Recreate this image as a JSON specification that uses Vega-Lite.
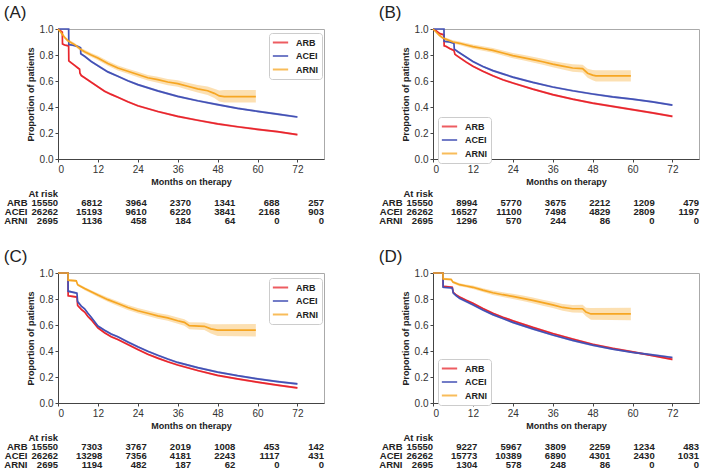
{
  "$schema": "https://vega.github.io/schema/vega-lite/v6.json",
  "background": "white",
  "padding": {"left": 3, "top": 3, "right": 2, "bottom": 2},
  "config": {
    "font": "Liberation Sans",
    "view": {"stroke": "#aaaaaa", "strokeWidth": 1},
    "axis": {"grid": false, "labelOverlap": false, "labelFont": "Liberation Sans", "labelFontSize": 10, "labelColor": "#333333", "titleFont": "Liberation Sans", "titleFontSize": 9, "titleFontWeight": "bold", "titleColor": "#222222", "domainColor": "#444444", "tickColor": "#444444", "tickSize": 3, "labelPadding": 2},
    "title": {"font": "Liberation Sans", "fontSize": 17, "fontWeight": "normal", "color": "#222222", "anchor": "start", "offset": 2},
    "legend": {"title": null, "strokeColor": "#cccccc", "fillColor": "white", "padding": 4, "cornerRadius": 3, "symbolType": "M-1.7,0H1.7", "symbolSize": 81, "symbolStrokeWidth": 2, "symbolOpacity": 0.75, "labelFont": "Liberation Sans", "labelFontSize": 9, "labelFontWeight": "bold", "labelColor": "#222222", "rowPadding": 2.5, "labelOffset": 10, "symbolOffset": 2}
  },
  "datasets": {
    "km": [
      {"p":"A","g":"ARB","i":0,"t":0,"s":1,"lo":1,"hi":1},
      {"p":"A","g":"ARB","i":1,"t":0.5,"s":0.99,"lo":0.982,"hi":0.998},
      {"p":"A","g":"ARB","i":2,"t":1.3,"s":0.975,"lo":0.967,"hi":0.983},
      {"p":"A","g":"ARB","i":3,"t":1.35,"s":0.885,"lo":0.877,"hi":0.893},
      {"p":"A","g":"ARB","i":4,"t":2,"s":0.877,"lo":0.869,"hi":0.885},
      {"p":"A","g":"ARB","i":5,"t":3.2,"s":0.87,"lo":0.862,"hi":0.878},
      {"p":"A","g":"ARB","i":6,"t":3.25,"s":0.755,"lo":0.747,"hi":0.763},
      {"p":"A","g":"ARB","i":7,"t":4,"s":0.74,"lo":0.732,"hi":0.748},
      {"p":"A","g":"ARB","i":8,"t":5,"s":0.72,"lo":0.712,"hi":0.728},
      {"p":"A","g":"ARB","i":9,"t":6,"s":0.7,"lo":0.692,"hi":0.708},
      {"p":"A","g":"ARB","i":10,"t":6.5,"s":0.69,"lo":0.682,"hi":0.698},
      {"p":"A","g":"ARB","i":11,"t":6.6,"s":0.66,"lo":0.652,"hi":0.668},
      {"p":"A","g":"ARB","i":12,"t":7,"s":0.642,"lo":0.634,"hi":0.65},
      {"p":"A","g":"ARB","i":13,"t":8,"s":0.625,"lo":0.617,"hi":0.633},
      {"p":"A","g":"ARB","i":14,"t":9,"s":0.608,"lo":0.6,"hi":0.616},
      {"p":"A","g":"ARB","i":15,"t":10,"s":0.59,"lo":0.582,"hi":0.598},
      {"p":"A","g":"ARB","i":16,"t":12,"s":0.556,"lo":0.548,"hi":0.564},
      {"p":"A","g":"ARB","i":17,"t":14,"s":0.522,"lo":0.514,"hi":0.53},
      {"p":"A","g":"ARB","i":18,"t":16,"s":0.497,"lo":0.489,"hi":0.505},
      {"p":"A","g":"ARB","i":19,"t":18,"s":0.475,"lo":0.467,"hi":0.483},
      {"p":"A","g":"ARB","i":20,"t":21,"s":0.44,"lo":0.432,"hi":0.448},
      {"p":"A","g":"ARB","i":21,"t":24,"s":0.41,"lo":0.402,"hi":0.418},
      {"p":"A","g":"ARB","i":22,"t":30,"s":0.365,"lo":0.357,"hi":0.373},
      {"p":"A","g":"ARB","i":23,"t":36,"s":0.328,"lo":0.32,"hi":0.336},
      {"p":"A","g":"ARB","i":24,"t":42,"s":0.298,"lo":0.29,"hi":0.306},
      {"p":"A","g":"ARB","i":25,"t":48,"s":0.27,"lo":0.262,"hi":0.278},
      {"p":"A","g":"ARB","i":26,"t":54,"s":0.248,"lo":0.24,"hi":0.256},
      {"p":"A","g":"ARB","i":27,"t":60,"s":0.228,"lo":0.22,"hi":0.236},
      {"p":"A","g":"ARB","i":28,"t":66,"s":0.21,"lo":0.202,"hi":0.218},
      {"p":"A","g":"ARB","i":29,"t":72,"s":0.187,"lo":0.179,"hi":0.195},
      {"p":"A","g":"ACEI","i":0,"t":0,"s":1,"lo":1,"hi":1},
      {"p":"A","g":"ACEI","i":1,"t":3.2,"s":1,"lo":1,"hi":1},
      {"p":"A","g":"ACEI","i":2,"t":3.25,"s":0.88,"lo":0.872,"hi":0.888},
      {"p":"A","g":"ACEI","i":3,"t":4.5,"s":0.875,"lo":0.867,"hi":0.883},
      {"p":"A","g":"ACEI","i":4,"t":6,"s":0.865,"lo":0.857,"hi":0.873},
      {"p":"A","g":"ACEI","i":5,"t":6.8,"s":0.855,"lo":0.847,"hi":0.863},
      {"p":"A","g":"ACEI","i":6,"t":6.85,"s":0.81,"lo":0.802,"hi":0.818},
      {"p":"A","g":"ACEI","i":7,"t":8,"s":0.79,"lo":0.782,"hi":0.798},
      {"p":"A","g":"ACEI","i":8,"t":10,"s":0.75,"lo":0.742,"hi":0.758},
      {"p":"A","g":"ACEI","i":9,"t":12,"s":0.718,"lo":0.71,"hi":0.726},
      {"p":"A","g":"ACEI","i":10,"t":15,"s":0.67,"lo":0.662,"hi":0.678},
      {"p":"A","g":"ACEI","i":11,"t":18,"s":0.636,"lo":0.628,"hi":0.644},
      {"p":"A","g":"ACEI","i":12,"t":21,"s":0.602,"lo":0.594,"hi":0.61},
      {"p":"A","g":"ACEI","i":13,"t":24,"s":0.572,"lo":0.564,"hi":0.58},
      {"p":"A","g":"ACEI","i":14,"t":30,"s":0.524,"lo":0.516,"hi":0.532},
      {"p":"A","g":"ACEI","i":15,"t":36,"s":0.482,"lo":0.474,"hi":0.49},
      {"p":"A","g":"ACEI","i":16,"t":42,"s":0.448,"lo":0.44,"hi":0.456},
      {"p":"A","g":"ACEI","i":17,"t":48,"s":0.418,"lo":0.41,"hi":0.426},
      {"p":"A","g":"ACEI","i":18,"t":54,"s":0.39,"lo":0.382,"hi":0.398},
      {"p":"A","g":"ACEI","i":19,"t":60,"s":0.367,"lo":0.359,"hi":0.375},
      {"p":"A","g":"ACEI","i":20,"t":66,"s":0.345,"lo":0.337,"hi":0.353},
      {"p":"A","g":"ACEI","i":21,"t":72,"s":0.323,"lo":0.315,"hi":0.331},
      {"p":"A","g":"ARNI","i":0,"t":0,"s":1,"lo":1,"hi":1},
      {"p":"A","g":"ARNI","i":1,"t":1,"s":0.97,"lo":0.962,"hi":0.978},
      {"p":"A","g":"ARNI","i":2,"t":2,"s":0.935,"lo":0.925,"hi":0.945},
      {"p":"A","g":"ARNI","i":3,"t":3,"s":0.91,"lo":0.899,"hi":0.921},
      {"p":"A","g":"ARNI","i":4,"t":4,"s":0.895,"lo":0.883,"hi":0.907},
      {"p":"A","g":"ARNI","i":5,"t":5,"s":0.88,"lo":0.867,"hi":0.893},
      {"p":"A","g":"ARNI","i":6,"t":6,"s":0.86,"lo":0.846,"hi":0.874},
      {"p":"A","g":"ARNI","i":7,"t":7,"s":0.84,"lo":0.826,"hi":0.854},
      {"p":"A","g":"ARNI","i":8,"t":8,"s":0.825,"lo":0.81,"hi":0.84},
      {"p":"A","g":"ARNI","i":9,"t":10,"s":0.8,"lo":0.784,"hi":0.816},
      {"p":"A","g":"ARNI","i":10,"t":12,"s":0.777,"lo":0.76,"hi":0.794},
      {"p":"A","g":"ARNI","i":11,"t":15,"s":0.735,"lo":0.717,"hi":0.753},
      {"p":"A","g":"ARNI","i":12,"t":18,"s":0.7,"lo":0.681,"hi":0.719},
      {"p":"A","g":"ARNI","i":13,"t":21,"s":0.675,"lo":0.655,"hi":0.695},
      {"p":"A","g":"ARNI","i":14,"t":24,"s":0.65,"lo":0.629,"hi":0.671},
      {"p":"A","g":"ARNI","i":15,"t":27,"s":0.625,"lo":0.603,"hi":0.647},
      {"p":"A","g":"ARNI","i":16,"t":30,"s":0.61,"lo":0.587,"hi":0.633},
      {"p":"A","g":"ARNI","i":17,"t":33,"s":0.592,"lo":0.568,"hi":0.616},
      {"p":"A","g":"ARNI","i":18,"t":36,"s":0.58,"lo":0.555,"hi":0.605},
      {"p":"A","g":"ARNI","i":19,"t":39,"s":0.56,"lo":0.533,"hi":0.587},
      {"p":"A","g":"ARNI","i":20,"t":42,"s":0.54,"lo":0.511,"hi":0.569},
      {"p":"A","g":"ARNI","i":21,"t":45,"s":0.525,"lo":0.493,"hi":0.557},
      {"p":"A","g":"ARNI","i":22,"t":47,"s":0.505,"lo":0.47,"hi":0.54},
      {"p":"A","g":"ARNI","i":23,"t":48.5,"s":0.485,"lo":0.443,"hi":0.527},
      {"p":"A","g":"ARNI","i":24,"t":50,"s":0.48,"lo":0.435,"hi":0.53},
      {"p":"A","g":"ARNI","i":25,"t":59.5,"s":0.48,"lo":0.435,"hi":0.53},

      {"p":"B","g":"ARB","i":0,"t":0,"s":1,"lo":1,"hi":1},
      {"p":"B","g":"ARB","i":1,"t":1,"s":0.985,"lo":0.977,"hi":0.993},
      {"p":"B","g":"ARB","i":2,"t":2,"s":0.965,"lo":0.957,"hi":0.973},
      {"p":"B","g":"ARB","i":3,"t":3.3,"s":0.955,"lo":0.947,"hi":0.963},
      {"p":"B","g":"ARB","i":4,"t":3.35,"s":0.87,"lo":0.862,"hi":0.878},
      {"p":"B","g":"ARB","i":5,"t":4,"s":0.865,"lo":0.857,"hi":0.873},
      {"p":"B","g":"ARB","i":6,"t":5,"s":0.85,"lo":0.842,"hi":0.858},
      {"p":"B","g":"ARB","i":7,"t":6.3,"s":0.835,"lo":0.827,"hi":0.843},
      {"p":"B","g":"ARB","i":8,"t":6.6,"s":0.805,"lo":0.797,"hi":0.813},
      {"p":"B","g":"ARB","i":9,"t":8,"s":0.78,"lo":0.772,"hi":0.788},
      {"p":"B","g":"ARB","i":10,"t":10,"s":0.745,"lo":0.737,"hi":0.753},
      {"p":"B","g":"ARB","i":11,"t":12,"s":0.713,"lo":0.705,"hi":0.721},
      {"p":"B","g":"ARB","i":12,"t":15,"s":0.675,"lo":0.667,"hi":0.683},
      {"p":"B","g":"ARB","i":13,"t":18,"s":0.64,"lo":0.632,"hi":0.648},
      {"p":"B","g":"ARB","i":14,"t":21,"s":0.61,"lo":0.602,"hi":0.618},
      {"p":"B","g":"ARB","i":15,"t":24,"s":0.585,"lo":0.577,"hi":0.593},
      {"p":"B","g":"ARB","i":16,"t":30,"s":0.538,"lo":0.53,"hi":0.546},
      {"p":"B","g":"ARB","i":17,"t":36,"s":0.495,"lo":0.487,"hi":0.503},
      {"p":"B","g":"ARB","i":18,"t":42,"s":0.46,"lo":0.452,"hi":0.468},
      {"p":"B","g":"ARB","i":19,"t":48,"s":0.43,"lo":0.422,"hi":0.438},
      {"p":"B","g":"ARB","i":20,"t":54,"s":0.405,"lo":0.397,"hi":0.413},
      {"p":"B","g":"ARB","i":21,"t":60,"s":0.38,"lo":0.372,"hi":0.388},
      {"p":"B","g":"ARB","i":22,"t":66,"s":0.355,"lo":0.347,"hi":0.363},
      {"p":"B","g":"ARB","i":23,"t":72,"s":0.328,"lo":0.32,"hi":0.336},
      {"p":"B","g":"ACEI","i":0,"t":0,"s":1,"lo":1,"hi":1},
      {"p":"B","g":"ACEI","i":1,"t":3.3,"s":1,"lo":1,"hi":1},
      {"p":"B","g":"ACEI","i":2,"t":3.35,"s":0.905,"lo":0.897,"hi":0.913},
      {"p":"B","g":"ACEI","i":3,"t":5,"s":0.9,"lo":0.892,"hi":0.908},
      {"p":"B","g":"ACEI","i":4,"t":6.3,"s":0.89,"lo":0.882,"hi":0.898},
      {"p":"B","g":"ACEI","i":5,"t":6.4,"s":0.845,"lo":0.837,"hi":0.853},
      {"p":"B","g":"ACEI","i":6,"t":7.5,"s":0.825,"lo":0.817,"hi":0.833},
      {"p":"B","g":"ACEI","i":7,"t":9,"s":0.8,"lo":0.792,"hi":0.808},
      {"p":"B","g":"ACEI","i":8,"t":12,"s":0.75,"lo":0.742,"hi":0.758},
      {"p":"B","g":"ACEI","i":9,"t":15,"s":0.712,"lo":0.704,"hi":0.72},
      {"p":"B","g":"ACEI","i":10,"t":18,"s":0.68,"lo":0.672,"hi":0.688},
      {"p":"B","g":"ACEI","i":11,"t":21,"s":0.655,"lo":0.647,"hi":0.663},
      {"p":"B","g":"ACEI","i":12,"t":24,"s":0.63,"lo":0.622,"hi":0.638},
      {"p":"B","g":"ACEI","i":13,"t":30,"s":0.59,"lo":0.582,"hi":0.598},
      {"p":"B","g":"ACEI","i":14,"t":36,"s":0.554,"lo":0.546,"hi":0.562},
      {"p":"B","g":"ACEI","i":15,"t":42,"s":0.525,"lo":0.517,"hi":0.533},
      {"p":"B","g":"ACEI","i":16,"t":48,"s":0.5,"lo":0.492,"hi":0.508},
      {"p":"B","g":"ACEI","i":17,"t":54,"s":0.478,"lo":0.47,"hi":0.486},
      {"p":"B","g":"ACEI","i":18,"t":60,"s":0.46,"lo":0.452,"hi":0.468},
      {"p":"B","g":"ACEI","i":19,"t":66,"s":0.44,"lo":0.432,"hi":0.448},
      {"p":"B","g":"ACEI","i":20,"t":72,"s":0.415,"lo":0.407,"hi":0.423},
      {"p":"B","g":"ARNI","i":0,"t":0,"s":1,"lo":1,"hi":1},
      {"p":"B","g":"ARNI","i":1,"t":1,"s":0.975,"lo":0.967,"hi":0.983},
      {"p":"B","g":"ARNI","i":2,"t":2,"s":0.95,"lo":0.94,"hi":0.96},
      {"p":"B","g":"ARNI","i":3,"t":3,"s":0.93,"lo":0.919,"hi":0.941},
      {"p":"B","g":"ARNI","i":4,"t":4,"s":0.92,"lo":0.908,"hi":0.932},
      {"p":"B","g":"ARNI","i":5,"t":6,"s":0.9,"lo":0.887,"hi":0.913},
      {"p":"B","g":"ARNI","i":6,"t":8,"s":0.89,"lo":0.876,"hi":0.904},
      {"p":"B","g":"ARNI","i":7,"t":10,"s":0.877,"lo":0.862,"hi":0.892},
      {"p":"B","g":"ARNI","i":8,"t":12,"s":0.865,"lo":0.849,"hi":0.881},
      {"p":"B","g":"ARNI","i":9,"t":15,"s":0.85,"lo":0.833,"hi":0.867},
      {"p":"B","g":"ARNI","i":10,"t":18,"s":0.835,"lo":0.817,"hi":0.853},
      {"p":"B","g":"ARNI","i":11,"t":21,"s":0.815,"lo":0.796,"hi":0.834},
      {"p":"B","g":"ARNI","i":12,"t":24,"s":0.795,"lo":0.775,"hi":0.815},
      {"p":"B","g":"ARNI","i":13,"t":27,"s":0.78,"lo":0.759,"hi":0.801},
      {"p":"B","g":"ARNI","i":14,"t":30,"s":0.765,"lo":0.743,"hi":0.787},
      {"p":"B","g":"ARNI","i":15,"t":33,"s":0.748,"lo":0.725,"hi":0.771},
      {"p":"B","g":"ARNI","i":16,"t":36,"s":0.73,"lo":0.706,"hi":0.754},
      {"p":"B","g":"ARNI","i":17,"t":39,"s":0.715,"lo":0.689,"hi":0.741},
      {"p":"B","g":"ARNI","i":18,"t":42,"s":0.7,"lo":0.672,"hi":0.728},
      {"p":"B","g":"ARNI","i":19,"t":45,"s":0.695,"lo":0.665,"hi":0.725},
      {"p":"B","g":"ARNI","i":20,"t":46.5,"s":0.66,"lo":0.625,"hi":0.695},
      {"p":"B","g":"ARNI","i":21,"t":48,"s":0.645,"lo":0.605,"hi":0.685},
      {"p":"B","g":"ARNI","i":22,"t":49,"s":0.64,"lo":0.597,"hi":0.683},
      {"p":"B","g":"ARNI","i":23,"t":59.5,"s":0.64,"lo":0.597,"hi":0.683},

      {"p":"C","g":"ARB","i":0,"t":0,"s":1,"lo":1,"hi":1},
      {"p":"C","g":"ARB","i":1,"t":3,"s":1,"lo":1,"hi":1},
      {"p":"C","g":"ARB","i":2,"t":3.05,"s":0.825,"lo":0.817,"hi":0.833},
      {"p":"C","g":"ARB","i":3,"t":5.7,"s":0.815,"lo":0.807,"hi":0.823},
      {"p":"C","g":"ARB","i":4,"t":5.9,"s":0.75,"lo":0.742,"hi":0.758},
      {"p":"C","g":"ARB","i":5,"t":7,"s":0.72,"lo":0.712,"hi":0.728},
      {"p":"C","g":"ARB","i":6,"t":8,"s":0.7,"lo":0.692,"hi":0.708},
      {"p":"C","g":"ARB","i":7,"t":9,"s":0.665,"lo":0.657,"hi":0.673},
      {"p":"C","g":"ARB","i":8,"t":10,"s":0.64,"lo":0.632,"hi":0.648},
      {"p":"C","g":"ARB","i":9,"t":12,"s":0.578,"lo":0.57,"hi":0.586},
      {"p":"C","g":"ARB","i":10,"t":14,"s":0.54,"lo":0.532,"hi":0.548},
      {"p":"C","g":"ARB","i":11,"t":16,"s":0.51,"lo":0.502,"hi":0.518},
      {"p":"C","g":"ARB","i":12,"t":18,"s":0.488,"lo":0.48,"hi":0.496},
      {"p":"C","g":"ARB","i":13,"t":21,"s":0.45,"lo":0.442,"hi":0.458},
      {"p":"C","g":"ARB","i":14,"t":24,"s":0.412,"lo":0.404,"hi":0.42},
      {"p":"C","g":"ARB","i":15,"t":27,"s":0.375,"lo":0.367,"hi":0.383},
      {"p":"C","g":"ARB","i":16,"t":30,"s":0.345,"lo":0.337,"hi":0.353},
      {"p":"C","g":"ARB","i":17,"t":33,"s":0.317,"lo":0.309,"hi":0.325},
      {"p":"C","g":"ARB","i":18,"t":36,"s":0.292,"lo":0.284,"hi":0.3},
      {"p":"C","g":"ARB","i":19,"t":42,"s":0.25,"lo":0.242,"hi":0.258},
      {"p":"C","g":"ARB","i":20,"t":48,"s":0.212,"lo":0.204,"hi":0.22},
      {"p":"C","g":"ARB","i":21,"t":54,"s":0.185,"lo":0.177,"hi":0.193},
      {"p":"C","g":"ARB","i":22,"t":60,"s":0.16,"lo":0.152,"hi":0.168},
      {"p":"C","g":"ARB","i":23,"t":66,"s":0.137,"lo":0.129,"hi":0.145},
      {"p":"C","g":"ARB","i":24,"t":72,"s":0.116,"lo":0.108,"hi":0.124},
      {"p":"C","g":"ACEI","i":0,"t":0,"s":1,"lo":1,"hi":1},
      {"p":"C","g":"ACEI","i":1,"t":3,"s":1,"lo":1,"hi":1},
      {"p":"C","g":"ACEI","i":2,"t":3.05,"s":0.86,"lo":0.852,"hi":0.868},
      {"p":"C","g":"ACEI","i":3,"t":5.7,"s":0.845,"lo":0.837,"hi":0.853},
      {"p":"C","g":"ACEI","i":4,"t":5.9,"s":0.78,"lo":0.772,"hi":0.788},
      {"p":"C","g":"ACEI","i":5,"t":7,"s":0.745,"lo":0.737,"hi":0.753},
      {"p":"C","g":"ACEI","i":6,"t":8,"s":0.725,"lo":0.717,"hi":0.733},
      {"p":"C","g":"ACEI","i":7,"t":9,"s":0.69,"lo":0.682,"hi":0.698},
      {"p":"C","g":"ACEI","i":8,"t":10,"s":0.66,"lo":0.652,"hi":0.668},
      {"p":"C","g":"ACEI","i":9,"t":12,"s":0.592,"lo":0.584,"hi":0.6},
      {"p":"C","g":"ACEI","i":10,"t":14,"s":0.56,"lo":0.552,"hi":0.568},
      {"p":"C","g":"ACEI","i":11,"t":16,"s":0.53,"lo":0.522,"hi":0.538},
      {"p":"C","g":"ACEI","i":12,"t":18,"s":0.509,"lo":0.501,"hi":0.517},
      {"p":"C","g":"ACEI","i":13,"t":21,"s":0.47,"lo":0.462,"hi":0.478},
      {"p":"C","g":"ACEI","i":14,"t":24,"s":0.432,"lo":0.424,"hi":0.44},
      {"p":"C","g":"ACEI","i":15,"t":27,"s":0.398,"lo":0.39,"hi":0.406},
      {"p":"C","g":"ACEI","i":16,"t":30,"s":0.367,"lo":0.359,"hi":0.375},
      {"p":"C","g":"ACEI","i":17,"t":33,"s":0.338,"lo":0.33,"hi":0.346},
      {"p":"C","g":"ACEI","i":18,"t":36,"s":0.312,"lo":0.304,"hi":0.32},
      {"p":"C","g":"ACEI","i":19,"t":42,"s":0.272,"lo":0.264,"hi":0.28},
      {"p":"C","g":"ACEI","i":20,"t":48,"s":0.238,"lo":0.23,"hi":0.246},
      {"p":"C","g":"ACEI","i":21,"t":54,"s":0.21,"lo":0.202,"hi":0.218},
      {"p":"C","g":"ACEI","i":22,"t":60,"s":0.186,"lo":0.178,"hi":0.194},
      {"p":"C","g":"ACEI","i":23,"t":66,"s":0.165,"lo":0.157,"hi":0.173},
      {"p":"C","g":"ACEI","i":24,"t":72,"s":0.147,"lo":0.139,"hi":0.155},
      {"p":"C","g":"ARNI","i":0,"t":0,"s":1,"lo":1,"hi":1},
      {"p":"C","g":"ARNI","i":1,"t":3,"s":1,"lo":1,"hi":1},
      {"p":"C","g":"ARNI","i":2,"t":3.05,"s":0.945,"lo":0.937,"hi":0.953},
      {"p":"C","g":"ARNI","i":3,"t":5.5,"s":0.94,"lo":0.931,"hi":0.949},
      {"p":"C","g":"ARNI","i":4,"t":5.9,"s":0.91,"lo":0.9,"hi":0.92},
      {"p":"C","g":"ARNI","i":5,"t":7,"s":0.895,"lo":0.884,"hi":0.906},
      {"p":"C","g":"ARNI","i":6,"t":8,"s":0.88,"lo":0.868,"hi":0.892},
      {"p":"C","g":"ARNI","i":7,"t":10,"s":0.855,"lo":0.842,"hi":0.868},
      {"p":"C","g":"ARNI","i":8,"t":12,"s":0.83,"lo":0.815,"hi":0.845},
      {"p":"C","g":"ARNI","i":9,"t":15,"s":0.795,"lo":0.778,"hi":0.812},
      {"p":"C","g":"ARNI","i":10,"t":18,"s":0.765,"lo":0.747,"hi":0.783},
      {"p":"C","g":"ARNI","i":11,"t":21,"s":0.735,"lo":0.716,"hi":0.754},
      {"p":"C","g":"ARNI","i":12,"t":24,"s":0.71,"lo":0.69,"hi":0.73},
      {"p":"C","g":"ARNI","i":13,"t":27,"s":0.69,"lo":0.669,"hi":0.711},
      {"p":"C","g":"ARNI","i":14,"t":30,"s":0.67,"lo":0.648,"hi":0.692},
      {"p":"C","g":"ARNI","i":15,"t":33,"s":0.655,"lo":0.632,"hi":0.678},
      {"p":"C","g":"ARNI","i":16,"t":36,"s":0.633,"lo":0.609,"hi":0.657},
      {"p":"C","g":"ARNI","i":17,"t":38,"s":0.62,"lo":0.595,"hi":0.645},
      {"p":"C","g":"ARNI","i":18,"t":39.5,"s":0.595,"lo":0.568,"hi":0.622},
      {"p":"C","g":"ARNI","i":19,"t":44,"s":0.59,"lo":0.561,"hi":0.619},
      {"p":"C","g":"ARNI","i":20,"t":46,"s":0.57,"lo":0.535,"hi":0.605},
      {"p":"C","g":"ARNI","i":21,"t":48,"s":0.56,"lo":0.515,"hi":0.605},
      {"p":"C","g":"ARNI","i":22,"t":59.5,"s":0.56,"lo":0.512,"hi":0.607},

      {"p":"D","g":"ARB","i":0,"t":0,"s":1,"lo":1,"hi":1},
      {"p":"D","g":"ARB","i":1,"t":3,"s":1,"lo":1,"hi":1},
      {"p":"D","g":"ARB","i":2,"t":3.05,"s":0.897,"lo":0.889,"hi":0.905},
      {"p":"D","g":"ARB","i":3,"t":5.8,"s":0.89,"lo":0.882,"hi":0.898},
      {"p":"D","g":"ARB","i":4,"t":6.1,"s":0.85,"lo":0.842,"hi":0.858},
      {"p":"D","g":"ARB","i":5,"t":7,"s":0.83,"lo":0.822,"hi":0.838},
      {"p":"D","g":"ARB","i":6,"t":8,"s":0.815,"lo":0.807,"hi":0.823},
      {"p":"D","g":"ARB","i":7,"t":10,"s":0.79,"lo":0.782,"hi":0.798},
      {"p":"D","g":"ARB","i":8,"t":12,"s":0.767,"lo":0.759,"hi":0.775},
      {"p":"D","g":"ARB","i":9,"t":15,"s":0.727,"lo":0.719,"hi":0.735},
      {"p":"D","g":"ARB","i":10,"t":18,"s":0.69,"lo":0.682,"hi":0.698},
      {"p":"D","g":"ARB","i":11,"t":21,"s":0.66,"lo":0.652,"hi":0.668},
      {"p":"D","g":"ARB","i":12,"t":24,"s":0.633,"lo":0.625,"hi":0.641},
      {"p":"D","g":"ARB","i":13,"t":30,"s":0.582,"lo":0.574,"hi":0.59},
      {"p":"D","g":"ARB","i":14,"t":36,"s":0.535,"lo":0.527,"hi":0.543},
      {"p":"D","g":"ARB","i":15,"t":42,"s":0.492,"lo":0.484,"hi":0.5},
      {"p":"D","g":"ARB","i":16,"t":48,"s":0.452,"lo":0.444,"hi":0.46},
      {"p":"D","g":"ARB","i":17,"t":54,"s":0.42,"lo":0.412,"hi":0.428},
      {"p":"D","g":"ARB","i":18,"t":60,"s":0.393,"lo":0.385,"hi":0.401},
      {"p":"D","g":"ARB","i":19,"t":66,"s":0.365,"lo":0.357,"hi":0.373},
      {"p":"D","g":"ARB","i":20,"t":72,"s":0.335,"lo":0.327,"hi":0.343},
      {"p":"D","g":"ACEI","i":0,"t":0,"s":1,"lo":1,"hi":1},
      {"p":"D","g":"ACEI","i":1,"t":3,"s":1,"lo":1,"hi":1},
      {"p":"D","g":"ACEI","i":2,"t":3.05,"s":0.89,"lo":0.882,"hi":0.898},
      {"p":"D","g":"ACEI","i":3,"t":5.8,"s":0.885,"lo":0.877,"hi":0.893},
      {"p":"D","g":"ACEI","i":4,"t":6.1,"s":0.845,"lo":0.837,"hi":0.853},
      {"p":"D","g":"ACEI","i":5,"t":7,"s":0.825,"lo":0.817,"hi":0.833},
      {"p":"D","g":"ACEI","i":6,"t":8,"s":0.805,"lo":0.797,"hi":0.813},
      {"p":"D","g":"ACEI","i":7,"t":10,"s":0.78,"lo":0.772,"hi":0.788},
      {"p":"D","g":"ACEI","i":8,"t":12,"s":0.755,"lo":0.747,"hi":0.763},
      {"p":"D","g":"ACEI","i":9,"t":15,"s":0.715,"lo":0.707,"hi":0.723},
      {"p":"D","g":"ACEI","i":10,"t":18,"s":0.68,"lo":0.672,"hi":0.688},
      {"p":"D","g":"ACEI","i":11,"t":21,"s":0.65,"lo":0.642,"hi":0.658},
      {"p":"D","g":"ACEI","i":12,"t":24,"s":0.62,"lo":0.612,"hi":0.628},
      {"p":"D","g":"ACEI","i":13,"t":30,"s":0.57,"lo":0.562,"hi":0.578},
      {"p":"D","g":"ACEI","i":14,"t":36,"s":0.523,"lo":0.515,"hi":0.531},
      {"p":"D","g":"ACEI","i":15,"t":42,"s":0.482,"lo":0.474,"hi":0.49},
      {"p":"D","g":"ACEI","i":16,"t":48,"s":0.445,"lo":0.437,"hi":0.453},
      {"p":"D","g":"ACEI","i":17,"t":54,"s":0.415,"lo":0.407,"hi":0.423},
      {"p":"D","g":"ACEI","i":18,"t":60,"s":0.39,"lo":0.382,"hi":0.398},
      {"p":"D","g":"ACEI","i":19,"t":66,"s":0.37,"lo":0.362,"hi":0.378},
      {"p":"D","g":"ACEI","i":20,"t":72,"s":0.35,"lo":0.342,"hi":0.358},
      {"p":"D","g":"ARNI","i":0,"t":0,"s":1,"lo":1,"hi":1},
      {"p":"D","g":"ARNI","i":1,"t":3,"s":1,"lo":1,"hi":1},
      {"p":"D","g":"ARNI","i":2,"t":3.05,"s":0.955,"lo":0.947,"hi":0.963},
      {"p":"D","g":"ARNI","i":3,"t":5.5,"s":0.95,"lo":0.941,"hi":0.959},
      {"p":"D","g":"ARNI","i":4,"t":6,"s":0.93,"lo":0.92,"hi":0.94},
      {"p":"D","g":"ARNI","i":5,"t":8,"s":0.91,"lo":0.899,"hi":0.921},
      {"p":"D","g":"ARNI","i":6,"t":10,"s":0.9,"lo":0.888,"hi":0.912},
      {"p":"D","g":"ARNI","i":7,"t":12,"s":0.89,"lo":0.876,"hi":0.904},
      {"p":"D","g":"ARNI","i":8,"t":15,"s":0.868,"lo":0.853,"hi":0.883},
      {"p":"D","g":"ARNI","i":9,"t":18,"s":0.848,"lo":0.831,"hi":0.865},
      {"p":"D","g":"ARNI","i":10,"t":21,"s":0.833,"lo":0.815,"hi":0.851},
      {"p":"D","g":"ARNI","i":11,"t":24,"s":0.82,"lo":0.8,"hi":0.84},
      {"p":"D","g":"ARNI","i":12,"t":27,"s":0.805,"lo":0.784,"hi":0.826},
      {"p":"D","g":"ARNI","i":13,"t":30,"s":0.79,"lo":0.768,"hi":0.812},
      {"p":"D","g":"ARNI","i":14,"t":33,"s":0.772,"lo":0.749,"hi":0.795},
      {"p":"D","g":"ARNI","i":15,"t":36,"s":0.755,"lo":0.731,"hi":0.779},
      {"p":"D","g":"ARNI","i":16,"t":39,"s":0.735,"lo":0.709,"hi":0.761},
      {"p":"D","g":"ARNI","i":17,"t":42,"s":0.725,"lo":0.697,"hi":0.753},
      {"p":"D","g":"ARNI","i":18,"t":45,"s":0.725,"lo":0.695,"hi":0.755},
      {"p":"D","g":"ARNI","i":19,"t":46,"s":0.7,"lo":0.668,"hi":0.732},
      {"p":"D","g":"ARNI","i":20,"t":47.5,"s":0.685,"lo":0.64,"hi":0.73},
      {"p":"D","g":"ARNI","i":21,"t":59.5,"s":0.685,"lo":0.637,"hi":0.733}
    ],
    "risk": [
      {"p":"A","r":"hdr","t":0,"n":"At risk"},
      {"p":"A","r":"ARB","t":0,"n":"15550"},{"p":"A","r":"ARB","t":12,"n":"6812"},{"p":"A","r":"ARB","t":24,"n":"3964"},{"p":"A","r":"ARB","t":36,"n":"2370"},{"p":"A","r":"ARB","t":48,"n":"1341"},{"p":"A","r":"ARB","t":60,"n":"688"},{"p":"A","r":"ARB","t":72,"n":"257"},
      {"p":"A","r":"ACEI","t":0,"n":"26262"},{"p":"A","r":"ACEI","t":12,"n":"15193"},{"p":"A","r":"ACEI","t":24,"n":"9610"},{"p":"A","r":"ACEI","t":36,"n":"6220"},{"p":"A","r":"ACEI","t":48,"n":"3841"},{"p":"A","r":"ACEI","t":60,"n":"2168"},{"p":"A","r":"ACEI","t":72,"n":"903"},
      {"p":"A","r":"ARNI","t":0,"n":"2695"},{"p":"A","r":"ARNI","t":12,"n":"1136"},{"p":"A","r":"ARNI","t":24,"n":"458"},{"p":"A","r":"ARNI","t":36,"n":"184"},{"p":"A","r":"ARNI","t":48,"n":"64"},{"p":"A","r":"ARNI","t":60,"n":"0"},{"p":"A","r":"ARNI","t":72,"n":"0"},
      {"p":"B","r":"hdr","t":0,"n":"At risk"},
      {"p":"B","r":"ARB","t":0,"n":"15550"},{"p":"B","r":"ARB","t":12,"n":"8994"},{"p":"B","r":"ARB","t":24,"n":"5770"},{"p":"B","r":"ARB","t":36,"n":"3675"},{"p":"B","r":"ARB","t":48,"n":"2212"},{"p":"B","r":"ARB","t":60,"n":"1209"},{"p":"B","r":"ARB","t":72,"n":"479"},
      {"p":"B","r":"ACEI","t":0,"n":"26262"},{"p":"B","r":"ACEI","t":12,"n":"16527"},{"p":"B","r":"ACEI","t":24,"n":"11100"},{"p":"B","r":"ACEI","t":36,"n":"7498"},{"p":"B","r":"ACEI","t":48,"n":"4829"},{"p":"B","r":"ACEI","t":60,"n":"2809"},{"p":"B","r":"ACEI","t":72,"n":"1197"},
      {"p":"B","r":"ARNI","t":0,"n":"2695"},{"p":"B","r":"ARNI","t":12,"n":"1296"},{"p":"B","r":"ARNI","t":24,"n":"570"},{"p":"B","r":"ARNI","t":36,"n":"244"},{"p":"B","r":"ARNI","t":48,"n":"86"},{"p":"B","r":"ARNI","t":60,"n":"0"},{"p":"B","r":"ARNI","t":72,"n":"0"},
      {"p":"C","r":"hdr","t":0,"n":"At risk"},
      {"p":"C","r":"ARB","t":0,"n":"15550"},{"p":"C","r":"ARB","t":12,"n":"7303"},{"p":"C","r":"ARB","t":24,"n":"3767"},{"p":"C","r":"ARB","t":36,"n":"2019"},{"p":"C","r":"ARB","t":48,"n":"1008"},{"p":"C","r":"ARB","t":60,"n":"453"},{"p":"C","r":"ARB","t":72,"n":"142"},
      {"p":"C","r":"ACEI","t":0,"n":"26262"},{"p":"C","r":"ACEI","t":12,"n":"13298"},{"p":"C","r":"ACEI","t":24,"n":"7356"},{"p":"C","r":"ACEI","t":36,"n":"4181"},{"p":"C","r":"ACEI","t":48,"n":"2243"},{"p":"C","r":"ACEI","t":60,"n":"1117"},{"p":"C","r":"ACEI","t":72,"n":"431"},
      {"p":"C","r":"ARNI","t":0,"n":"2695"},{"p":"C","r":"ARNI","t":12,"n":"1194"},{"p":"C","r":"ARNI","t":24,"n":"482"},{"p":"C","r":"ARNI","t":36,"n":"187"},{"p":"C","r":"ARNI","t":48,"n":"62"},{"p":"C","r":"ARNI","t":60,"n":"0"},{"p":"C","r":"ARNI","t":72,"n":"0"},
      {"p":"D","r":"hdr","t":0,"n":"At risk"},
      {"p":"D","r":"ARB","t":0,"n":"15550"},{"p":"D","r":"ARB","t":12,"n":"9227"},{"p":"D","r":"ARB","t":24,"n":"5967"},{"p":"D","r":"ARB","t":36,"n":"3809"},{"p":"D","r":"ARB","t":48,"n":"2259"},{"p":"D","r":"ARB","t":60,"n":"1234"},{"p":"D","r":"ARB","t":72,"n":"483"},
      {"p":"D","r":"ACEI","t":0,"n":"26262"},{"p":"D","r":"ACEI","t":12,"n":"15773"},{"p":"D","r":"ACEI","t":24,"n":"10389"},{"p":"D","r":"ACEI","t":36,"n":"6890"},{"p":"D","r":"ACEI","t":48,"n":"4301"},{"p":"D","r":"ACEI","t":60,"n":"2430"},{"p":"D","r":"ACEI","t":72,"n":"1031"},
      {"p":"D","r":"ARNI","t":0,"n":"2695"},{"p":"D","r":"ARNI","t":12,"n":"1304"},{"p":"D","r":"ARNI","t":24,"n":"578"},{"p":"D","r":"ARNI","t":36,"n":"248"},{"p":"D","r":"ARNI","t":48,"n":"86"},{"p":"D","r":"ARNI","t":60,"n":"0"},{"p":"D","r":"ARNI","t":72,"n":"0"}
    ]
  },
  "spacing": 22,
  "resolve": {"legend": {"color": "independent"}},
  "vconcat": [
    {
      "spacing": 53,
      "resolve": {"legend": {"color": "independent"}},
      "hconcat": [
        {
          "title": "(A)",
          "spacing": 1,
          "vconcat": [
            {
              "width": 266, "height": 130,
              "data": {"name": "km"},
              "transform": [{"filter": "datum.p == 'A'"}],
              "layer": [
                {"mark": {"type": "area", "opacity": 0.35}, "encoding": {"x": {"field": "t", "type": "quantitative", "scale": {"domain": [0, 72]}, "axis": {"values": [0,12,24,36,48,60,72], "title": "Months on therapy", "titlePadding": 3}}, "y": {"field": "lo", "type": "quantitative", "scale": {"domain": [0, 1]}, "axis": {"values": [0,0.2,0.4,0.6,0.8,1], "format": ".1f", "title": "Proportion of patients", "titlePadding": 4, "labelOverlap": false}}, "y2": {"field": "hi"}, "fill": {"field": "g", "type": "nominal", "scale": {"domain": ["ARB","ACEI","ARNI"], "range": ["#e8262d","#4351b5","#f6a623"]}, "legend": null}}},
                {"mark": {"type": "line", "strokeWidth": 1.7}, "encoding": {"x": {"field": "t", "type": "quantitative", "axis": {"values": [0,12,24,36,48,60,72], "title": "Months on therapy", "titlePadding": 3}}, "y": {"field": "s", "type": "quantitative", "axis": {"values": [0,0.2,0.4,0.6,0.8,1], "format": ".1f", "title": "Proportion of patients", "titlePadding": 4, "labelOverlap": false}}, "color": {"field": "g", "type": "nominal", "scale": {"domain": ["ARB","ACEI","ARNI"], "range": ["#e8262d","#4351b5","#f6a623"]}, "legend": {"orient": "none", "legendX": 211, "legendY": 4}}, "order": {"field": "i"}}}
              ]
            },
            {
              "width": 266, "height": 36,
              "view": {"stroke": null},
              "data": {"name": "risk"},
              "transform": [{"filter": "datum.p == 'A'"}],
              "mark": {"type": "text", "align": "right", "baseline": "middle", "fontWeight": "bold", "fontSize": 9.5, "color": "#222222"},
              "encoding": {
                "x": {"field": "t", "type": "quantitative", "scale": {"domain": [0, 72]}, "axis": null},
                "y": {"field": "r", "type": "nominal", "scale": {"domain": ["hdr","ARB","ACEI","ARNI"]}, "axis": {"title": null, "domain": false, "ticks": false, "labelPadding": 31, "labelFontWeight": "bold", "labelFontSize": 9.5, "labelColor": "#222222", "labelExpr": "datum.value == 'hdr' ? '' : datum.value"}},
                "text": {"field": "n", "type": "nominal"}
              }
            }
          ]
        },
        {
          "title": "(B)",
          "spacing": 1,
          "vconcat": [
            {
              "width": 266, "height": 130,
              "data": {"name": "km"},
              "transform": [{"filter": "datum.p == 'B'"}],
              "layer": [
                {"mark": {"type": "area", "opacity": 0.35}, "encoding": {"x": {"field": "t", "type": "quantitative", "scale": {"domain": [0, 72]}, "axis": {"values": [0,12,24,36,48,60,72], "title": "Months on therapy", "titlePadding": 3}}, "y": {"field": "lo", "type": "quantitative", "scale": {"domain": [0, 1]}, "axis": {"values": [0,0.2,0.4,0.6,0.8,1], "format": ".1f", "title": "Proportion of patients", "titlePadding": 4, "labelOverlap": false}}, "y2": {"field": "hi"}, "fill": {"field": "g", "type": "nominal", "scale": {"domain": ["ARB","ACEI","ARNI"], "range": ["#e8262d","#4351b5","#f6a623"]}, "legend": null}}},
                {"mark": {"type": "line", "strokeWidth": 1.7}, "encoding": {"x": {"field": "t", "type": "quantitative", "axis": {"values": [0,12,24,36,48,60,72], "title": "Months on therapy", "titlePadding": 3}}, "y": {"field": "s", "type": "quantitative", "axis": {"values": [0,0.2,0.4,0.6,0.8,1], "format": ".1f", "title": "Proportion of patients", "titlePadding": 4, "labelOverlap": false}}, "color": {"field": "g", "type": "nominal", "scale": {"domain": ["ARB","ACEI","ARNI"], "range": ["#e8262d","#4351b5","#f6a623"]}, "legend": {"orient": "none", "legendX": 5, "legendY": 88}}, "order": {"field": "i"}}}
              ]
            },
            {
              "width": 266, "height": 36,
              "view": {"stroke": null},
              "data": {"name": "risk"},
              "transform": [{"filter": "datum.p == 'B'"}],
              "mark": {"type": "text", "align": "right", "baseline": "middle", "fontWeight": "bold", "fontSize": 9.5, "color": "#222222"},
              "encoding": {
                "x": {"field": "t", "type": "quantitative", "scale": {"domain": [0, 72]}, "axis": null},
                "y": {"field": "r", "type": "nominal", "scale": {"domain": ["hdr","ARB","ACEI","ARNI"]}, "axis": {"title": null, "domain": false, "ticks": false, "labelPadding": 31, "labelFontWeight": "bold", "labelFontSize": 9.5, "labelColor": "#222222", "labelExpr": "datum.value == 'hdr' ? '' : datum.value"}},
                "text": {"field": "n", "type": "nominal"}
              }
            }
          ]
        }
      ]
    },
    {
      "spacing": 53,
      "resolve": {"legend": {"color": "independent"}},
      "hconcat": [
        {
          "title": "(C)",
          "spacing": 1,
          "vconcat": [
            {
              "width": 266, "height": 130,
              "data": {"name": "km"},
              "transform": [{"filter": "datum.p == 'C'"}],
              "layer": [
                {"mark": {"type": "area", "opacity": 0.35}, "encoding": {"x": {"field": "t", "type": "quantitative", "scale": {"domain": [0, 72]}, "axis": {"values": [0,12,24,36,48,60,72], "title": "Months on therapy", "titlePadding": 3}}, "y": {"field": "lo", "type": "quantitative", "scale": {"domain": [0, 1]}, "axis": {"values": [0,0.2,0.4,0.6,0.8,1], "format": ".1f", "title": "Proportion of patients", "titlePadding": 4, "labelOverlap": false}}, "y2": {"field": "hi"}, "fill": {"field": "g", "type": "nominal", "scale": {"domain": ["ARB","ACEI","ARNI"], "range": ["#e8262d","#4351b5","#f6a623"]}, "legend": null}}},
                {"mark": {"type": "line", "strokeWidth": 1.7}, "encoding": {"x": {"field": "t", "type": "quantitative", "axis": {"values": [0,12,24,36,48,60,72], "title": "Months on therapy", "titlePadding": 3}}, "y": {"field": "s", "type": "quantitative", "axis": {"values": [0,0.2,0.4,0.6,0.8,1], "format": ".1f", "title": "Proportion of patients", "titlePadding": 4, "labelOverlap": false}}, "color": {"field": "g", "type": "nominal", "scale": {"domain": ["ARB","ACEI","ARNI"], "range": ["#e8262d","#4351b5","#f6a623"]}, "legend": {"orient": "none", "legendX": 211, "legendY": 5}}, "order": {"field": "i"}}}
              ]
            },
            {
              "width": 266, "height": 36,
              "view": {"stroke": null},
              "data": {"name": "risk"},
              "transform": [{"filter": "datum.p == 'C'"}],
              "mark": {"type": "text", "align": "right", "baseline": "middle", "fontWeight": "bold", "fontSize": 9.5, "color": "#222222"},
              "encoding": {
                "x": {"field": "t", "type": "quantitative", "scale": {"domain": [0, 72]}, "axis": null},
                "y": {"field": "r", "type": "nominal", "scale": {"domain": ["hdr","ARB","ACEI","ARNI"]}, "axis": {"title": null, "domain": false, "ticks": false, "labelPadding": 31, "labelFontWeight": "bold", "labelFontSize": 9.5, "labelColor": "#222222", "labelExpr": "datum.value == 'hdr' ? '' : datum.value"}},
                "text": {"field": "n", "type": "nominal"}
              }
            }
          ]
        },
        {
          "title": "(D)",
          "spacing": 1,
          "vconcat": [
            {
              "width": 266, "height": 130,
              "data": {"name": "km"},
              "transform": [{"filter": "datum.p == 'D'"}],
              "layer": [
                {"mark": {"type": "area", "opacity": 0.35}, "encoding": {"x": {"field": "t", "type": "quantitative", "scale": {"domain": [0, 72]}, "axis": {"values": [0,12,24,36,48,60,72], "title": "Months on therapy", "titlePadding": 3}}, "y": {"field": "lo", "type": "quantitative", "scale": {"domain": [0, 1]}, "axis": {"values": [0,0.2,0.4,0.6,0.8,1], "format": ".1f", "title": "Proportion of patients", "titlePadding": 4, "labelOverlap": false}}, "y2": {"field": "hi"}, "fill": {"field": "g", "type": "nominal", "scale": {"domain": ["ARB","ACEI","ARNI"], "range": ["#e8262d","#4351b5","#f6a623"]}, "legend": null}}},
                {"mark": {"type": "line", "strokeWidth": 1.7}, "encoding": {"x": {"field": "t", "type": "quantitative", "axis": {"values": [0,12,24,36,48,60,72], "title": "Months on therapy", "titlePadding": 3}}, "y": {"field": "s", "type": "quantitative", "axis": {"values": [0,0.2,0.4,0.6,0.8,1], "format": ".1f", "title": "Proportion of patients", "titlePadding": 4, "labelOverlap": false}}, "color": {"field": "g", "type": "nominal", "scale": {"domain": ["ARB","ACEI","ARNI"], "range": ["#e8262d","#4351b5","#f6a623"]}, "legend": {"orient": "none", "legendX": 5, "legendY": 86}}, "order": {"field": "i"}}}
              ]
            },
            {
              "width": 266, "height": 36,
              "view": {"stroke": null},
              "data": {"name": "risk"},
              "transform": [{"filter": "datum.p == 'D'"}],
              "mark": {"type": "text", "align": "right", "baseline": "middle", "fontWeight": "bold", "fontSize": 9.5, "color": "#222222"},
              "encoding": {
                "x": {"field": "t", "type": "quantitative", "scale": {"domain": [0, 72]}, "axis": null},
                "y": {"field": "r", "type": "nominal", "scale": {"domain": ["hdr","ARB","ACEI","ARNI"]}, "axis": {"title": null, "domain": false, "ticks": false, "labelPadding": 31, "labelFontWeight": "bold", "labelFontSize": 9.5, "labelColor": "#222222", "labelExpr": "datum.value == 'hdr' ? '' : datum.value"}},
                "text": {"field": "n", "type": "nominal"}
              }
            }
          ]
        }
      ]
    }
  ]
}
